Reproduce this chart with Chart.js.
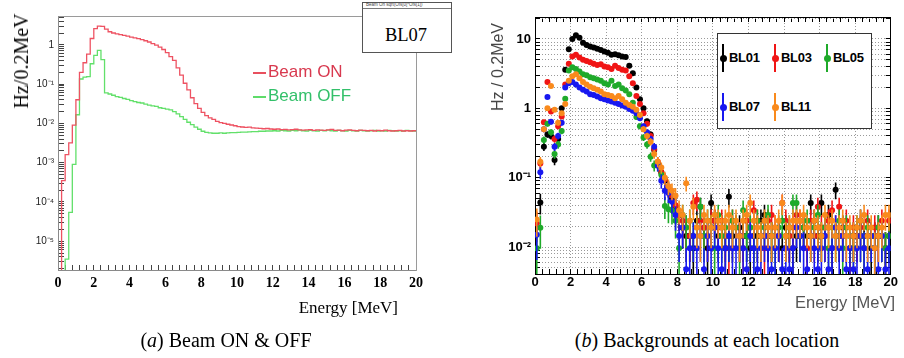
<!DOCTYPE html>
<html>
<head>
<meta charset="utf-8">
<script src="https://cdn.jsdelivr.net/npm/chart.js@4.4.1/dist/chart.umd.min.js"></script>
<style>
  body { margin: 0; background: #fff; }
  #page { position: relative; width: 904px; height: 358px; overflow: hidden; background: #fff; }
  canvas { position: absolute; }
  .txt { position: absolute; white-space: nowrap; line-height: 1; }
  .serif { font-family: 'Liberation Serif', 'DejaVu Serif', serif; }
  .sans { font-family: 'Liberation Sans', Arial, sans-serif; }
  .center { transform: translate(-50%, -50%); }
  .vert { transform: translate(-50%, -50%) rotate(-90deg); }
  .lgline { display: inline-block; width: 13px; height: 2px; vertical-align: middle; margin-right: 2px; }
</style>
</head>
<body>
<div id="page">
  <canvas id="chartA" width="450" height="300" style="left:0;top:0"></canvas>
  <canvas id="chartB" width="444" height="300" style="left:460px;top:0"></canvas>

  <!-- panel (a) texts -->
  <div class="txt serif vert" style="left:21px;top:61px;font-size:20px">Hz/0.2MeV</div>
  <div class="txt serif" style="right:506px;top:299px;font-size:17px">Energy [MeV]</div>
  <div class="txt serif center" style="left:226px;top:340px;font-size:20px">(<i>a</i>) Beam ON &amp; OFF</div>
  <div class="txt sans" style="left:253px;top:63px;font-size:17px;color:#d8394f"><span class="lgline" style="background:#e8505e"></span>Beam ON</div>
  <div class="txt sans" style="left:253px;top:87px;font-size:17px;color:#33c06a"><span class="lgline" style="background:#5fdc6a"></span>Beam OFF</div>
  <div style="position:absolute;left:362px;top:2px;width:88px;height:49px;border:1px solid #555;background:#fff">
    <div class="txt sans" style="left:3px;top:0;font-size:4.5px;color:#444">Beam On sqrt(Ofs[0]*Ofs[1])</div>
    <div style="position:absolute;left:0;top:5px;width:88px;border-top:1px solid #777"></div>
    <div class="txt serif center" style="left:43px;top:32px;font-size:18.5px">BL07</div>
  </div>

  <!-- panel (b) texts -->
  <div class="txt sans vert" style="left:498px;top:67px;font-size:16px;color:#444">Hz / 0.2MeV</div>
  <div class="txt sans" style="right:9px;top:294px;font-size:16.5px;color:#555">Energy [MeV]</div>
  <div class="txt serif center" style="left:707px;top:340px;font-size:20px">(<i>b</i>) Backgrounds at each location</div>
  <div id="legendB" style="position:absolute;left:717px;top:33px;width:153px;height:94px;border:1.5px solid #333;background:#fff"></div>
</div>

<script>
// bin width of both histograms, MeV
const binWidth = 0.2

// (a) BL07 spectra, Hz per 0.2 MeV bin, bins start at 0, 0.2, 0.4 ... 19.8
const beamOn = [1e-9, 3.5e-4, 1.6e-3, 3.2e-3, 9e-3, 0.04, 0.2, 0.35, 0.58, 1.45,
    2.6, 3.0, 2.95, 2.5, 2.15, 2.0, 1.9, 1.82, 1.74, 1.66,
    1.58, 1.5, 1.44, 1.36, 1.27, 1.18, 1.07, 0.98, 0.87, 0.76,
    0.63, 0.5, 0.4, 0.26, 0.17, 0.105, 0.071, 0.045, 0.032, 0.024,
    0.019, 0.0158, 0.0138, 0.0126, 0.0112, 0.0105, 0.0100, 0.0095, 0.0091, 0.0087,
    0.0083, 0.0081, 0.0079, 0.0080, 0.0077, 0.0076, 0.0075, 0.0073, 0.0074, 0.0072,
    0.0071, 0.0072, 0.0069, 0.0070, 0.0068, 0.0069, 0.0071, 0.0068, 0.0067, 0.0068,
    0.0069, 0.0066, 0.0068, 0.0067, 0.0066, 0.0068, 0.0070, 0.0066, 0.0067, 0.0065,
    0.0067, 0.0068, 0.0066, 0.0065, 0.0067, 0.0066, 0.0065, 0.0066, 0.0064, 0.0066,
    0.0065, 0.0067, 0.0065, 0.0064, 0.0065, 0.0066, 0.0064, 0.0065, 0.0064, 0.0065]
const beamOff = [1e-9, 1e-9, 3.5e-6, 5.4e-5, 9e-4, 0.0166, 0.135, 0.15, 0.155, 0.33,
    0.54, 0.72, 0.42, 0.06, 0.056, 0.052, 0.048, 0.046, 0.043, 0.041,
    0.038, 0.036, 0.034, 0.033, 0.031, 0.029, 0.028, 0.027, 0.025, 0.024,
    0.023, 0.022, 0.020, 0.0175, 0.0148, 0.0126, 0.0107, 0.0093, 0.0080, 0.0071,
    0.0063, 0.0059, 0.0057, 0.0056, 0.0056, 0.0057, 0.0056, 0.0057, 0.0058, 0.0058,
    0.0059, 0.0060, 0.0060, 0.0061, 0.0062, 0.0062, 0.0063, 0.0063, 0.0064, 0.0064,
    0.0065, 0.0064, 0.0066, 0.0065, 0.0064, 0.0066, 0.0065, 0.0067, 0.0065, 0.0064,
    0.0066, 0.0065, 0.0064, 0.0066, 0.0065, 0.0067, 0.0065, 0.0064, 0.0066, 0.0065,
    0.0064, 0.0066, 0.0065, 0.0064, 0.0066, 0.0065, 0.0064, 0.0065, 0.0066, 0.0064,
    0.0065, 0.0064, 0.0066, 0.0065, 0.0064, 0.0065, 0.0064, 0.0066, 0.0065, 0.0064]

// (b) rate at each location, Hz per bin, bin centres 0.1, 0.3 ... 19.9 (null = empty bin)
const bl01 = [null, 0.044, 0.28, 0.42, 0.40, 0.18, 0.36, 1.0, 3.6, 7.1,
    10.0, 11.3, 10.4, 8.8, 8.2, 7.8, 7.5, 7.2, 6.9, 6.6,
    6.3, 5.9, 6.0, 5.8, 5.6, 5.5, 4.1, 3.2, 2.0, 1.35,
    1.0, 0.65, 0.42, 0.25, 0.16, 0.12, 0.09, 0.07, 0.05, 0.038,
    0.029, 0.019, 0.0144, 0.0144, 0.0096, 0.024, 0.038, 0.019, 0.0096, 0.043,
    0.024, 0.0144, 0.0192, 0.0096, 0.053, 0.0144, null, 0.0192, 0.0144, 0.0144,
    0.0096, 0.0144, 0.0144, 0.024, 0.029, 0.0144, 0.0144, null, 0.0144, 0.0096,
    0.0192, 0.0144, 0.0096, 0.0144, 0.0144, 0.0192, 0.0144, 0.043, 0.024, 0.0144,
    0.043, 0.0192, 0.029, 0.0096, 0.067, 0.0144, 0.0192, null, 0.0096, 0.0144,
    0.0144, 0.024, 0.0144, null, 0.0096, 0.0144, 0.0192, null, 0.0096, 0.0144]
const bl03 = [0.022, 0.16, 0.63, 2.4, 0.9, 0.36, 0.55, 0.76, 2.2, 4.4,
    5.6, 5.9, 5.4, 5.0, 4.8, 4.6, 4.4, 4.2, 4.3, 4.0,
    3.9, 3.7, 4.1, 3.8, 3.6, 3.5, 2.9, 2.3, 1.5, 1.15,
    0.85, 0.6, 0.4, 0.26, 0.17, 0.12, 0.095, 0.07, 0.055, 0.04,
    0.029, 0.024, 0.0192, 0.0144, 0.043, 0.048, 0.024, 0.0192, 0.0144, 0.024,
    0.024, 0.0192, 0.024, 0.0144, 0.0096, 0.024, 0.0192, 0.0144, 0.0096, 0.024,
    0.0192, 0.034, 0.024, 0.0144, 0.0096, 0.024, 0.029, 0.0192, 0.0144, 0.043,
    0.024, 0.0144, 0.0192, 0.029, 0.024, 0.0192, 0.0096, 0.024, 0.0144, 0.038,
    0.0192, 0.0144, 0.024, 0.034, 0.0192, 0.038, 0.0144, 0.024, 0.0096, 0.0192,
    0.0144, 0.0192, 0.0096, 0.024, 0.0144, 0.0192, 0.0144, 0.024, 0.0096, 0.024]
const bl05 = [0.0096, 0.019, 0.35, 0.6, 0.45, 0.22, 0.3, 0.47, 1.37, 3.5,
    3.9, 3.7, 3.4, 3.1, 3.0, 2.8, 2.7, 2.6, 2.5, 2.3,
    2.2, 2.5, 2.1, 2.2, 1.95, 1.8, 1.6, 1.2, 0.75, 0.55,
    0.38, 0.3, 0.2, 0.15, 0.15, 0.11, 0.039, 0.035, 0.034, 0.024,
    0.0096, 0.029, 0.0192, 0.024, 0.0144, 0.0192, 0.038, 0.0144, 0.024, 0.0192,
    0.0096, 0.029, 0.0144, 0.0192, 0.0144, 0.024, 0.0192, 0.0096, 0.034, 0.0144,
    0.0192, 0.0096, 0.024, 0.0144, 0.0192, 0.029, 0.0144, 0.0096, 0.0192, 0.024,
    0.0144, 0.0192, 0.043, 0.043, 0.0144, 0.0192, 0.024, 0.0144, 0.0192, 0.029,
    0.0144, 0.0192, 0.0096, 0.0192, 0.0144, 0.024, 0.0096, 0.0192, 0.0144, 0.0096,
    0.0192, 0.0144, 0.0096, 0.0192, 0.0144, 0.0096, 0.0192, 0.0144, 0.0096, 0.0144]
const bl07 = [0.015, 0.12, 0.5, 1.45, 0.64, 0.28, 0.4, 0.62, 2.0, 2.3,
    2.4, 2.2, 2.0, 1.85, 1.75, 1.6, 1.55, 1.48, 1.4, 1.35,
    1.3, 1.25, 1.2, 1.15, 1.1, 1.05, 0.98, 0.92, 0.85, 0.72,
    0.55, 0.45, 0.36, 0.28, 0.15, 0.09, 0.065, 0.06, 0.045, 0.029,
    0.0144, 0.0192, 0.0048, 0.0096, 0.0144, 0.0096, 0.0144, 0.0048, 0.0144, 0.0096,
    0.0192, 0.0096, 0.0048, 0.0096, 0.0144, 0.0096, 0.0096, 0.0144, 0.0096, 0.0048,
    0.0144, 0.0096, 0.0048, 0.0096, 0.0144, 0.0096, 0.0048, 0.0096, 0.0144, 0.0048,
    0.0096, 0.0048, 0.0096, 0.0192, 0.0144, 0.0096, 0.0048, 0.0144, 0.0096, 0.0048,
    0.0096, 0.0144, 0.0048, 0.0096, 0.0192, 0.0096, 0.0144, 0.0048, 0.0096, 0.0048,
    0.0096, 0.0144, 0.0096, 0.0048, 0.0144, 0.0096, 0.0048, 0.0144, 0.0048, 0.0096]
const bl11 = [0.025, 0.17, 0.5, 1.0, 2.1, 0.95, 0.62, 0.85, 1.15, 2.5,
    2.9, 3.1, 2.7, 2.4, 2.2, 2.05, 1.95, 1.85, 1.75, 1.6,
    1.55, 1.5, 1.4, 1.5, 1.35, 1.2, 1.12, 1.05, 0.95, 0.8,
    0.5, 0.4, 0.33, 0.22, 0.17, 0.14, 0.1, 0.075, 0.065, 0.055,
    0.034, 0.029, 0.083, 0.024, 0.038, 0.0192, 0.0144, 0.029, 0.024, 0.0192,
    0.029, 0.024, 0.0192, 0.024, 0.029, 0.0192, 0.024, 0.0144, 0.024, 0.029,
    0.043, 0.024, 0.0192, 0.0144, 0.024, 0.0192, 0.0144, 0.0192, 0.024, 0.043,
    0.0144, 0.0192, 0.024, 0.024, 0.024, 0.029, 0.0192, 0.0144, 0.024, 0.0192,
    0.0144, 0.029, 0.0192, 0.024, 0.0144, 0.0192, 0.024, 0.0144, 0.0192, 0.0144,
    0.0192, 0.024, 0.029, 0.0144, 0.0192, 0.0096, 0.0144, 0.0192, 0.029, 0.029]

const locations = ['BL01', 'BL03', 'BL05', 'BL07', 'BL11']
const locationRates = [bl01, bl03, bl05, bl07, bl11]
const locationColors = ['#000000', '#f01515', '#1faa2a', '#1818f0', '#f98a1c']

// rate of a single count in one bin (Hz), used for the poisson error bars
const countUnit = 0.0048

// tick labels
const xTickText = ['0', '2', '4', '6', '8', '10', '12', '14', '16', '18', '20']
const leftYTickVals = [1, 0.1, 0.01, 0.001, 0.0001, 0.00001]
const leftYTickText = ['1', '10⁻¹', '10⁻²', '10⁻³', '10⁻⁴', '10⁻⁵']
const rightYTickVals = [10, 1, 0.1, 0.01]
const rightYTickText = ['10', '1', '10⁻¹', '10⁻²']

// ticks at 1..9 x 10^n, like root draws them
function logTicks(min, max) {
    let out = []
    for (let e = Math.floor(Math.log10(min)); e <= Math.ceil(Math.log10(max)); e++) {
        for (let m = 1; m < 10; m++) {
            let v = +(m * Math.pow(10, e)).toPrecision(6)
            if (v >= min && v <= max) out.push({ value: v })
        }
    }
    return out
}
function pickLabel(vals, texts) {
    return v => {
        let i = vals.findIndex(t => Math.abs(t - v) / t < 1e-6)
        return i < 0 ? '' : texts[i]
    }
}
function xLabel(v) {
    return Number.isInteger(v) && v % 2 === 0 ? xTickText[v / 2] : ''
}

// ---------- (a) step histograms ----------
function histPoints(values) {
    let pts = values.map((v, i) => ({ x: +(i * binWidth).toFixed(1), y: v }))
    pts.push({ x: +(values.length * binWidth).toFixed(1), y: values[values.length - 1] })
    return pts
}

const aMin = 1.85e-6, aMax = 5.42
new Chart(document.querySelector('#chartA'), {
    type: 'line',
    data: {
        datasets: [
            { label: 'Beam ON', data: histPoints(beamOn), borderColor: '#ee5262', borderWidth: 1.3, stepped: true, pointRadius: 0, fill: false },
            { label: 'Beam OFF', data: histPoints(beamOff), borderColor: '#62e06a', borderWidth: 1.3, stepped: true, pointRadius: 0, fill: false }
        ]
    },
    options: {
        responsive: false,
        animation: false,
        events: [],
        layout: { padding: { top: 14, right: 34, left: 0, bottom: 0 } },
        plugins: { legend: { display: false }, tooltip: { enabled: false } },
        scales: {
            x: {
                type: 'linear', min: 0, max: 20,
                ticks: { stepSize: 0.4, autoSkip: false, maxRotation: 0, padding: 10, color: '#000', callback: xLabel,
                    font: { family: "'Liberation Serif', serif", weight: 'bold', size: 14 } },
                grid: { drawOnChartArea: false, tickLength: -5, tickColor: '#444' },
                border: { color: '#8a8a8a' },
                afterFit: s => { s.height = 30 }
            },
            x2: {
                type: 'linear', position: 'top', min: 0, max: 20,
                ticks: { display: false }, grid: { display: false },
                border: { color: '#9a9a9a' },
                afterFit: s => { s.height = 0 }
            },
            y: {
                type: 'logarithmic', min: aMin, max: aMax,
                afterBuildTicks: s => { s.ticks = logTicks(aMin, aMax) },
                ticks: { autoSkip: false, padding: 10, color: '#222', callback: pickLabel(leftYTickVals, leftYTickText),
                    font: { family: "'Liberation Sans', Arial, sans-serif", size: 10 } },
                grid: { drawOnChartArea: false, tickLength: -6, tickColor: '#444' },
                border: { color: '#8a8a8a' },
                afterFit: s => { s.width = 58 }
            },
            y2: {
                type: 'logarithmic', position: 'right', min: aMin, max: aMax,
                ticks: { display: false }, grid: { display: false },
                border: { color: '#9a9a9a' },
                afterFit: s => { s.width = 0 }
            }
        }
    }
})

// ---------- (b) points with error bars ----------
// draws the vertical error bar of each point just before that dataset's markers
const errorBars = {
    id: 'errorBars',
    beforeDatasetDraw(chart, args) {
        let ds = chart.data.datasets[args.index]
        if (!ds.err) return
        let xs = chart.scales.x, ys = chart.scales.y, area = chart.chartArea
        let ctx = chart.ctx
        ctx.save()
        ctx.beginPath()
        ctx.rect(area.left, area.top, area.right - area.left, area.bottom - area.top)
        ctx.clip()
        ctx.strokeStyle = ds.borderColor
        ctx.lineWidth = 1.6
        ds.data.forEach((p, i) => {
            if (p.y == null) return
            let e = ds.err[i]
            let px = xs.getPixelForValue(p.x)
            let top = ys.getPixelForValue(p.y + e)
            let bot = p.y - e > 0 ? ys.getPixelForValue(p.y - e) : area.bottom + 2
            ctx.beginPath()
            ctx.moveTo(px, top)
            ctx.lineTo(px, bot)
            ctx.stroke()
        })
        ctx.restore()
    }
}

const bMin = 0.00409, bMax = 20.7
const bDatasets = locations.map((name, k) => ({
    label: name,
    data: locationRates[k].map((v, i) => ({ x: +((i + 0.5) * binWidth).toFixed(1), y: v })),
    err: locationRates[k].map(v => v == null ? null : Math.sqrt(v * countUnit)),
    borderColor: locationColors[k],
    backgroundColor: locationColors[k],
    pointRadius: 3,
    pointBorderWidth: 0,
    showLine: false,
    // later locations are drawn on top
    order: locations.length - k
}))

new Chart(document.querySelector('#chartB'), {
    type: 'scatter',
    data: { datasets: bDatasets },
    plugins: [errorBars],
    options: {
        responsive: false,
        animation: false,
        events: [],
        layout: { padding: { top: 17, right: 7, left: 0, bottom: 0 } },
        plugins: { legend: { display: false }, tooltip: { enabled: false } },
        scales: {
            x: {
                type: 'linear', min: 0, max: 20,
                ticks: { stepSize: 0.4, autoSkip: false, maxRotation: 0, padding: 6, color: '#000', callback: xLabel,
                    font: { family: "'Liberation Sans', Arial, sans-serif", weight: 'bold', size: 13 } },
                grid: { color: c => (c.tick && Number.isInteger(c.tick.value) && c.tick.value % 2 === 0) ? '#9a9a9a' : 'rgba(0,0,0,0)',
                    tickColor: '#000', tickLength: -5 },
                border: { color: '#000', dash: [1, 2] },
                afterFit: s => { s.height = 26 }
            },
            x2: {
                type: 'linear', position: 'top', min: 0, max: 20,
                ticks: { display: false, stepSize: 0.4, autoSkip: false },
                grid: { drawOnChartArea: false, tickLength: -5, tickColor: '#000' },
                border: { color: '#000' },
                afterFit: s => { s.height = 0 }
            },
            y: {
                type: 'logarithmic', min: bMin, max: bMax,
                afterBuildTicks: s => { s.ticks = logTicks(bMin, bMax) },
                ticks: { autoSkip: false, padding: 9, color: '#000', callback: pickLabel(rightYTickVals, rightYTickText),
                    font: { family: "'Liberation Sans', Arial, sans-serif", weight: 'bold', size: 13 } },
                grid: { color: '#9a9a9a', tickColor: '#000', tickLength: -5 },
                border: { color: '#000', dash: [1, 2] },
                afterFit: s => { s.width = 75 }
            },
            y2: {
                type: 'logarithmic', position: 'right', min: bMin, max: bMax,
                afterBuildTicks: s => { s.ticks = logTicks(bMin, bMax) },
                ticks: { display: false, autoSkip: false },
                grid: { drawOnChartArea: false, tickLength: -5, tickColor: '#000' },
                border: { color: '#000' },
                afterFit: s => { s.width = 0 }
            }
        }
    }
})

// legend box of panel (b): three entries per row
const legend = document.querySelector('#legendB')
locations.forEach((name, k) => {
    let cx = 5 + (k % 3) * 52, cy = 24 + Math.floor(k / 3) * 49
    let mark = document.createElement('div')
    mark.style.cssText = `position:absolute;left:${cx - 1}px;top:${cy - 14}px;width:2px;height:28px;background:${locationColors[k]}`
    let dot = document.createElement('div')
    dot.style.cssText = `position:absolute;left:${cx - 3.5}px;top:${cy - 3.5}px;width:7px;height:7px;border-radius:50%;background:${locationColors[k]}`
    let text = document.createElement('div')
    text.className = 'txt sans'
    text.style.cssText = `left:${cx + 6}px;top:${cy - 7}px;font-size:13px;font-weight:bold;letter-spacing:-0.3px`
    text.textContent = name
    legend.append(mark, dot, text)
})
</script>
</body>
</html>
